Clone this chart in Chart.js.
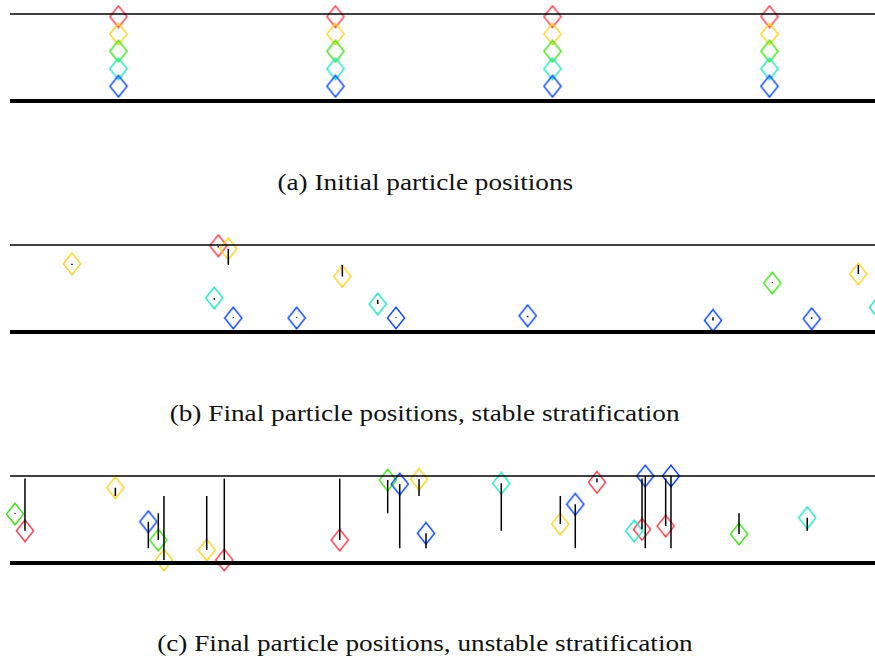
<!DOCTYPE html>
<html>
<head>
<meta charset="utf-8">
<script src="https://cdn.jsdelivr.net/npm/chart.js@4.4.1/dist/chart.umd.min.js"></script>
<style>
  html, body { margin: 0; padding: 0; background: #fff; }
  body { width: 875px; height: 658px; position: relative; overflow: hidden; }
  canvas { position: absolute; left: 0; }
  .caption {
    position: absolute; left: 0; width: 850px; text-align: center;
    font-family: "Liberation Serif", "Times New Roman", serif;
    font-size: 24px; line-height: 24px; color: #111;
  }
  .caption span { display: inline-block; transform: scaleX(1.135); }
</style>
</head>
<body>
<canvas id="initial" width="875" height="130"></canvas>
<div class="caption" style="top:170px"><span>(a) Initial particle positions</span></div>
<canvas id="stable" width="875" height="130"></canvas>
<div class="caption" style="top:401px"><span>(b) Final particle positions, stable stratification</span></div>
<canvas id="unstable" width="875" height="130"></canvas>
<div class="caption" style="top:631px"><span>(c) Final particle positions, unstable stratification</span></div>
<script>
// particle layers, bottom to top: blue, cyan, green, yellow, red
const layerColors = ['#0a46f5', '#1ee6c3', '#3ce614', '#ffd21e', '#f23c4b'];
const layerHeights = [0.17, 0.37, 0.572, 0.77, 0.97];

// (a) one column of five particles at each of these x
const initialX = [1, 3, 5, 7];

// (b) final positions, stable case
const stableX     = [0.571, 1.920, 2.012, 1.883, 2.058, 2.642, 3.063, 3.389, 3.558, 4.771, 6.479, 7.026, 7.389, 7.819, 8.0];
const stableY     = [0.785, 0.992, 0.957, 0.391, 0.161, 0.161, 0.639, 0.322, 0.161, 0.187, 0.133, 0.563, 0.153, 0.667, 0.283];
const stableLayer = [3,     4,     3,     1,     0,     0,     3,     1,     0,     0,     0,     2,     0,     3,     1];

// (c) final positions, unstable case
const unstableX     = [0.046, 0.138, 0.971, 1.275, 1.367, 1.419, 1.813, 1.975, 3.039, 3.481, 3.592, 3.770,
                       3.834, 4.528, 5.072, 5.210, 5.410, 5.754, 5.825, 5.855, 6.043, 6.092, 6.719, 7.348];
const unstableY     = [0.563, 0.371, 0.866, 0.475, 0.264, 0.034, 0.149, 0.034, 0.264, 0.954, 0.908, 0.962,
                       0.341, 0.916, 0.448, 0.675, 0.928, 0.368, 0.387, 1.0,   0.425, 1.0,   0.333, 0.521];
const unstableLayer = [2,     4,     3,     0,     2,     3,     3,     4,     4,     2,     0,     3,
                       0,     1,     3,     0,     4,     1,     4,     0,     4,     0,     2,     1];

// channel geometry on screen: walls 87px apart, 108.5px per x unit, left end at 10px
const wallGap = 87, aboveTop = 15, unitX = 108.5, leftPad = 10, canvasH = 130, canvasW = 875;

function diamond(color) {
  const c = document.createElement('canvas');
  c.width = 20; c.height = 24;
  const g = c.getContext('2d');
  g.strokeStyle = color;
  g.lineWidth = 1.4;
  g.beginPath();
  g.moveTo(10, 1.2); g.lineTo(18.6, 12); g.lineTo(10, 22.8); g.lineTo(1.4, 12);
  g.closePath();
  g.stroke();
  return c;
}
const markers = layerColors.map(diamond);

function groupByLayer(xs, ys, layers) {
  const groups = layerColors.map(() => []);
  xs.forEach((x, i) => groups[layers[i]].push({ x, y: ys[i] }));
  return groups;
}

// vertical segment from each particle back to the height its layer started at
function driftSegments(xs, ys, layers) {
  const pts = [];
  xs.forEach((x, i) => {
    pts.push({ x, y: ys[i] }, { x, y: layerHeights[layers[i]] }, { x, y: null });
  });
  return pts;
}

function makePanel(id, top, groups, drift) {
  const canvas = document.getElementById(id);
  canvas.style.top = top + 'px';
  const datasets = [
    { data: [{ x: 0, y: 1 }, { x: 9, y: 1 }], showLine: true, borderColor: '#000', borderWidth: 1.5, pointRadius: 0 },
    { data: [{ x: 0, y: 0 }, { x: 9, y: 0 }], showLine: true, borderColor: '#000', borderWidth: 3.8, pointRadius: 0 }
  ];
  if (drift) {
    datasets.push({ data: drift, showLine: true, spanGaps: false, borderColor: '#000', borderWidth: 1.5, pointRadius: 0 });
  }
  groups.forEach((pts, l) => {
    datasets.push({ data: pts, showLine: false, pointStyle: markers[l], pointRadius: 10 });
  });
  datasets.forEach(d => { d.clip = false; });

  new Chart(canvas, {
    type: 'scatter',
    data: { datasets },
    options: {
      responsive: false,
      animation: false,
      events: [],
      layout: { padding: 0, autoPadding: false },
      plugins: { legend: { display: false }, tooltip: { enabled: false } },
      elements: { line: { tension: 0 } },
      scales: {
        x: { type: 'linear', display: false, min: -leftPad / unitX, max: (canvasW - leftPad) / unitX },
        y: { type: 'linear', display: false, min: -(canvasH - aboveTop - wallGap) / wallGap, max: 1 + aboveTop / wallGap }
      }
    }
  });
}

const initialGroups = layerHeights.map(h => initialX.map(x => ({ x, y: h })));
makePanel('initial', -1, initialGroups, null);
makePanel('stable', 230, groupByLayer(stableX, stableY, stableLayer), driftSegments(stableX, stableY, stableLayer));
makePanel('unstable', 461, groupByLayer(unstableX, unstableY, unstableLayer), driftSegments(unstableX, unstableY, unstableLayer));
</script>
</body>
</html>
